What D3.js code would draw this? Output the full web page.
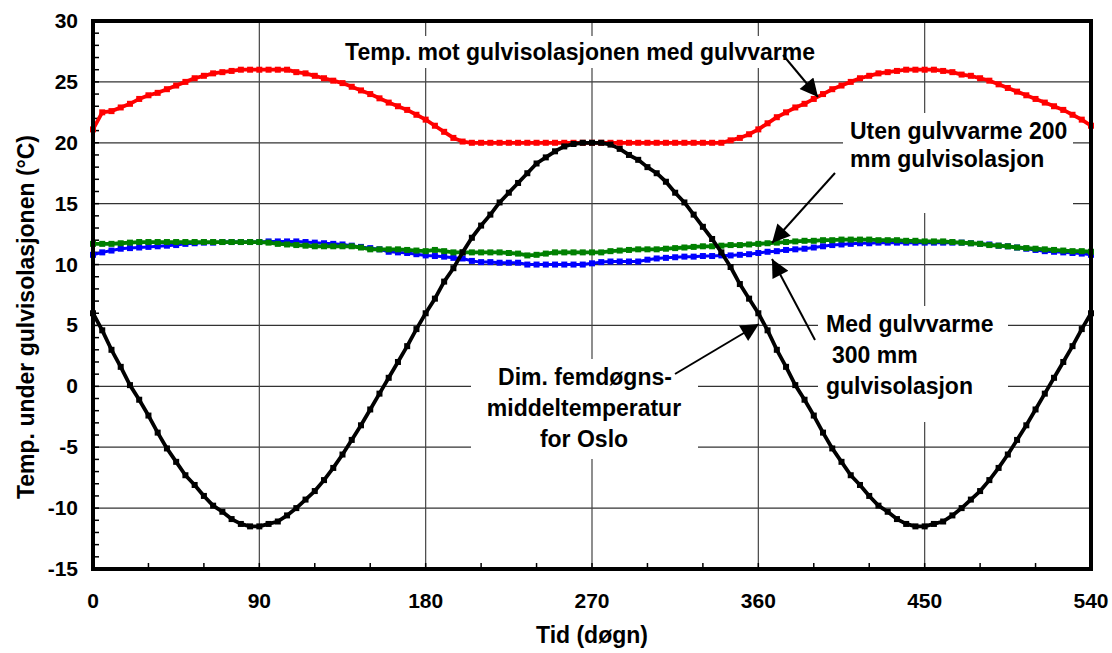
<!DOCTYPE html>
<html><head><meta charset="utf-8">
<script src="https://cdn.jsdelivr.net/npm/d3@7"></script>
<style>
html,body{margin:0;padding:0;background:#fff;}
svg{display:block;font-family:"Liberation Sans",Arial,sans-serif;font-weight:bold;}
</style></head>
<body><svg id="c" width="1112" height="653"></svg>
<script>
// ---- data ----
const days = d3.range(0, 541, 5);
const xTicks = [0, 90, 180, 270, 360, 450, 540];
const yTicks = [30, 25, 20, 15, 10, 5, 0, -5, -10, -15];

const oslo = [6.0,4.6,3.0,1.6,0.1,-1.1,-2.4,-3.8,-5.1,-6.2,-7.3,-8.1,-9.0,-9.8,-10.3,-10.9,-11.3,-11.5,-11.5,
  -11.3,-11.1,-10.6,-10.0,-9.3,-8.6,-7.7,-6.7,-5.6,-4.4,-3.2,-1.9,-0.6,0.7,2.0,3.3,4.7,6.0,
  7.2,8.6,9.7,11.0,12.2,13.2,14.1,15.1,15.9,16.7,17.5,18.3,18.8,19.3,19.7,19.9,20.0,20.0,
  20.0,19.85,19.5,19.0,18.6,18.0,17.5,16.8,15.9,15.1,14.1,13.1,12.1,11.0,9.8,8.4,7.2,6.0,
  4.6,3.0,1.6,0.1,-1.1,-2.4,-3.8,-5.1,-6.2,-7.3,-8.1,-9.0,-9.8,-10.3,-10.9,-11.3,-11.5,-11.5,
  -11.3,-11.1,-10.6,-10.0,-9.3,-8.6,-7.7,-6.7,-5.6,-4.4,-3.2,-1.9,-0.6,0.7,2.0,3.3,4.7,6.0];

const medVarme = [21.1,22.5,22.6,22.9,23.2,23.6,23.9,24.1,24.4,24.7,25.0,25.3,25.5,25.7,25.8,25.9,26.0,26.0,26.0,
  26.0,26.0,26.0,25.8,25.7,25.5,25.3,25.1,24.9,24.6,24.3,24.0,23.65,23.3,23.0,22.7,22.3,21.9,
  21.4,20.9,20.4,20.1,20.0,20.0,20.0,20.0,20.0,20.0,20.0,20.0,20.0,20.0,20.0,20.0,20.0,20.0,
  20.0,20.0,20.0,20.0,20.0,20.0,20.0,20.0,20.0,20.0,20.0,20.0,20.0,20.0,20.2,20.4,20.7,21.1,
  21.6,22.1,22.5,22.9,23.2,23.6,24.0,24.4,24.7,25.0,25.3,25.5,25.7,25.8,25.9,26.0,26.0,26.0,
  26.0,25.9,25.8,25.6,25.5,25.3,25.1,24.8,24.5,24.2,23.9,23.6,23.3,23.0,22.7,22.3,21.9,21.4];

const med300 = [10.8,11.0,11.15,11.3,11.35,11.4,11.45,11.5,11.55,11.6,11.7,11.75,11.8,11.8,11.85,11.85,11.85,11.85,11.85,
  11.9,11.9,11.9,11.9,11.85,11.8,11.75,11.7,11.65,11.55,11.45,11.35,11.25,11.05,11.0,10.95,10.85,10.75,
  10.7,10.65,10.55,10.5,10.3,10.2,10.2,10.15,10.15,10.15,10.0,10.0,10.0,10.0,10.0,10.0,10.0,10.1,
  10.2,10.25,10.25,10.25,10.25,10.4,10.5,10.55,10.6,10.65,10.65,10.7,10.7,10.75,10.75,10.8,10.85,10.95,
  11.05,11.1,11.2,11.25,11.3,11.4,11.5,11.6,11.65,11.7,11.75,11.75,11.8,11.8,11.8,11.8,11.8,11.8,
  11.8,11.8,11.8,11.8,11.75,11.7,11.65,11.55,11.5,11.4,11.3,11.2,11.1,11.05,11.0,10.95,10.9,10.8];

const uten200 = [11.7,11.7,11.7,11.75,11.8,11.85,11.85,11.85,11.85,11.85,11.85,11.85,11.85,11.85,11.85,11.85,11.85,11.85,11.85,
  11.8,11.7,11.65,11.6,11.55,11.5,11.5,11.5,11.5,11.5,11.4,11.25,11.25,11.25,11.25,11.2,11.15,11.1,
  11.2,11.1,11.0,11.0,11.0,11.0,11.0,11.0,10.95,10.9,10.75,10.8,10.9,11.0,11.0,11.0,11.0,11.0,
  11.0,11.1,11.15,11.2,11.25,11.25,11.25,11.3,11.35,11.4,11.45,11.5,11.5,11.55,11.6,11.6,11.65,11.7,
  11.75,11.8,11.85,11.9,11.95,11.95,12.0,12.0,12.05,12.05,12.05,12.05,12.0,12.0,12.0,11.95,11.95,11.9,
  11.9,11.9,11.85,11.8,11.75,11.7,11.6,11.55,11.5,11.4,11.35,11.3,11.25,11.2,11.15,11.1,11.1,11.05];

const seriesList = [
  {name: "Med gulvvarme 300 mm gulvisolasjon", values: med300, color: "#0000ff"},
  {name: "Uten gulvvarme 200 mm gulvisolasjon", values: uten200, color: "#008000"},
  {name: "Temp. mot gulvisolasjonen med gulvvarme", values: medVarme, color: "#ff0000"},
  {name: "Dim. femdøgnsmiddeltemperatur for Oslo", values: oslo, color: "#000000"}
];

// ---- layout ----
const L = 93, R = 1091, T = 21, B = 569;
const svg = d3.select("#c");
const x = d3.scaleLinear().domain([0, 540]).range([L, R]);
const y = d3.scaleLinear().domain([-15, 30]).range([B, T]);

// gridlines
const g = svg.append("g");
g.selectAll("line.gy").data(yTicks.filter(v => v > -15 && v < 30)).join("line")
  .attr("x1", L).attr("x2", R).attr("y1", d => y(d)).attr("y2", d => y(d))
  .attr("stroke", "#333").attr("stroke-width", 1.2);
g.selectAll("line.gx").data(xTicks.filter(v => v > 0 && v < 540)).join("line")
  .attr("y1", T).attr("y2", B).attr("x1", d => x(d)).attr("x2", d => x(d))
  .attr("stroke", "#444").attr("stroke-width", 1.2);

// minor ticks (inside)
const minorY = d3.range(-15, 31, 1);
svg.append("g").selectAll("line").data(minorY).join("line")
  .attr("x1", L).attr("x2", L + 6).attr("y1", d => y(d)).attr("y2", d => y(d))
  .attr("stroke", "#000").attr("stroke-width", 1.5);
const minorX = d3.range(0, 541, 30);
svg.append("g").selectAll("line").data(minorX).join("line")
  .attr("y1", B).attr("y2", B - 6).attr("x1", d => x(d)).attr("x2", d => x(d))
  .attr("stroke", "#000").attr("stroke-width", 1.5);

// annotation background boxes (hide gridlines)
const boxes = [
  [336, 36, 490, 32],
  [843, 113, 230, 100],
  [818, 306, 190, 116],
  [471, 359, 227, 100]
];
svg.append("g").selectAll("rect").data(boxes).join("rect")
  .attr("x", d => d[0]).attr("y", d => d[1]).attr("width", d => d[2]).attr("height", d => d[3])
  .attr("fill", "#fff");

// series
const line = d3.line().x((d, i) => x(days[i])).y(d => y(d));
const sg = svg.append("g");
seriesList.forEach(s => {
  sg.append("path").datum(s.values).attr("d", line)
    .attr("fill", "none").attr("stroke", s.color).attr("stroke-width", s.color === "#0000ff" ? 3 : 3.8)
    .attr("stroke-linejoin", "round");
  sg.append("g").selectAll("rect").data(s.values).join("rect")
    .attr("x", (d, i) => x(days[i]) - 3).attr("y", d => y(d) - 3)
    .attr("width", 6).attr("height", 6).attr("fill", s.color);
});

// frame
svg.append("rect").attr("x", L).attr("y", T).attr("width", R - L).attr("height", B - T)
  .attr("fill", "none").attr("stroke", "#000").attr("stroke-width", 4);

// axes labels
svg.append("g").selectAll("text").data(yTicks).join("text")
  .attr("x", 78).attr("y", d => y(d) + 7).attr("text-anchor", "end")
  .attr("font-size", 21).text(d => d);
svg.append("g").selectAll("text").data(xTicks).join("text")
  .attr("x", d => x(d)).attr("y", 608).attr("text-anchor", "middle")
  .attr("font-size", 21).text(d => d);

svg.append("text").attr("x", 592).attr("y", 643).attr("text-anchor", "middle")
  .attr("font-size", 23).text("Tid (døgn)");
svg.append("text").attr("transform", `translate(34,317) rotate(-90)`)
  .attr("text-anchor", "middle").attr("font-size", 23).text("Temp. under gulvisolasjonen (°C)");

// annotations
const ann = svg.append("g").attr("font-size", 23);
ann.append("text").attr("x", 580).attr("y", 60).attr("text-anchor", "middle")
  .text("Temp. mot gulvisolasjonen med gulvvarme");
ann.append("text").attr("x", 850).attr("y", 139).text("Uten gulvvarme 200");
ann.append("text").attr("x", 850).attr("y", 167).text("mm gulvisolasjon");
ann.append("text").attr("x", 826).attr("y", 332).text("Med gulvvarme");
ann.append("text").attr("x", 832).attr("y", 363).text("300 mm");
ann.append("text").attr("x", 826).attr("y", 394).text("gulvisolasjon");
ann.append("text").attr("x", 585).attr("y", 385).attr("text-anchor", "middle").text("Dim. femdøgns-");
ann.append("text").attr("x", 584).attr("y", 416).attr("text-anchor", "middle").text("middeltemperatur");
ann.append("text").attr("x", 584).attr("y", 447).attr("text-anchor", "middle").text("for Oslo");

// arrows
const defs = svg.append("defs");
defs.append("marker").attr("id", "ah").attr("viewBox", "0 0 10 10")
  .attr("refX", 10).attr("refY", 5)
  .attr("markerUnits", "userSpaceOnUse").attr("orient", "auto")
  .attr("markerWidth", 24).attr("markerHeight", 18)
  .append("path").attr("d", "M0,0 L10,5 L0,10 Z").attr("fill", "#000");
const arrows = [
  [783, 55, 818, 97],
  [835, 173, 772, 243],
  [815, 340, 772, 259],
  [675, 374, 759, 324]
];
svg.append("g").selectAll("line").data(arrows).join("line")
  .attr("x1", d => d[0]).attr("y1", d => d[1]).attr("x2", d => d[2]).attr("y2", d => d[3])
  .attr("stroke", "#000").attr("stroke-width", 2).attr("marker-end", "url(#ah)");
</script></body></html>
